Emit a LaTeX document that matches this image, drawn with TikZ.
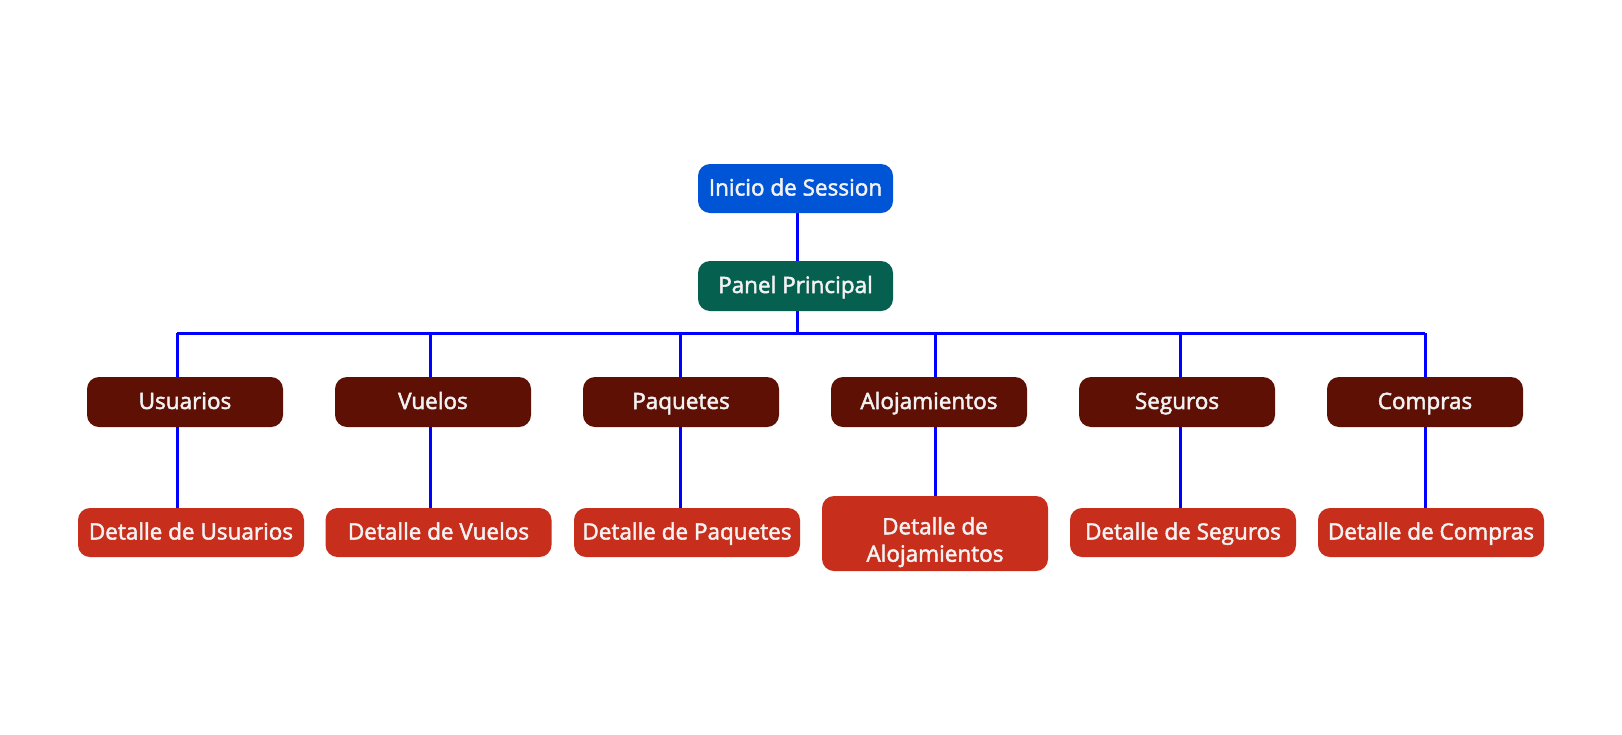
\documentclass[tikz,border=0pt]{standalone}
\usepackage{fontspec}
\setmainfont{Open Sans}
\newfontfamily\lblfont{Open Sans}[FakeBold=2.2]
\usetikzlibrary{backgrounds}
\definecolor{cblue}{HTML}{0055D6}
\definecolor{cgreen}{HTML}{05604F}
\definecolor{cdark}{HTML}{5E1005}
\definecolor{cred}{HTML}{C82E1C}
\definecolor{ctext}{HTML}{F2F2F2}
\definecolor{cline}{HTML}{0000FF}
\tikzset{
  lbl/.style={text=ctext, inner sep=0pt, font=\lblfont\fontsize{22.5}{27.4}\selectfont},
  box/.style={lbl, rounded corners=12pt, text height=17pt, text depth=3pt},
  topbox/.style={box, fill=cblue, minimum width=195pt, minimum height=49pt},
  panelbox/.style={box, fill=cgreen, minimum width=195pt, minimum height=50pt},
  secbox/.style={box, fill=cdark, minimum width=196pt, minimum height=50pt},
  detbox/.style={box, fill=cred, minimum width=226pt, minimum height=49pt},
  link/.style={draw=cline, line width=3pt}
}
\begin{document}
\begin{tikzpicture}[x=1pt,y=-1pt]
\useasboundingbox (0,0) rectangle (1622,734);
\node[topbox] (ini) at (795.5,188.5) {Inicio de Session};
\node[panelbox] (pp) at (795.5,286) {Panel Principal};
\node[secbox] (s1) at (185,402) {Usuarios};
\node[secbox] (s2) at (433,402) {Vuelos};
\node[secbox] (s3) at (681,402) {Paquetes};
\node[secbox] (s4) at (929,402) {Alojamientos};
\node[secbox] (s5) at (1177,402) {Seguros};
\node[secbox] (s6) at (1425,402) {Compras};
\node[detbox] (d1) at (191,532.5) {Detalle de Usuarios};
\node[detbox] (d2) at (438.5,532.5) {Detalle de Vuelos};
\node[detbox] (d3) at (687,532.5) {Detalle de Paquetes};
\node[detbox, minimum height=75pt] (d4) at (935,533.5) {};
\node[lbl, anchor=base] (d4a) at (935,534.3) {Detalle de};
\node[lbl, anchor=base] (d4b) at (935,561.7) {Alojamientos};
\node[detbox] (d5) at (1183,532.5) {Detalle de Seguros};
\node[detbox] (d6) at (1431,532.5) {Detalle de Compras};
\coordinate (b0) at (797,333);
\coordinate (b1) at (177,333);
\coordinate (b2) at (430,333);
\coordinate (b3) at (680,333);
\coordinate (b4) at (935,333);
\coordinate (b5) at (1180,333);
\coordinate (b6) at (1425,333);
\begin{scope}[on background layer]
\draw[link] (ini.south -| b0) -- (pp.north -| b0);
\draw[link] (pp.south -| b0) -- (b0);
\draw[link] (b1) -- (b6);
\draw[link] (b1) -- (b1 |- d1.north);
\draw[link] (b2) -- (b2 |- d2.north);
\draw[link] (b3) -- (b3 |- d3.north);
\draw[link] (b4) -- (b4 |- d4.north);
\draw[link] (b5) -- (b5 |- d5.north);
\draw[link] (b6) -- (b6 |- d6.north);
\end{scope}
\end{tikzpicture}
\end{document}
